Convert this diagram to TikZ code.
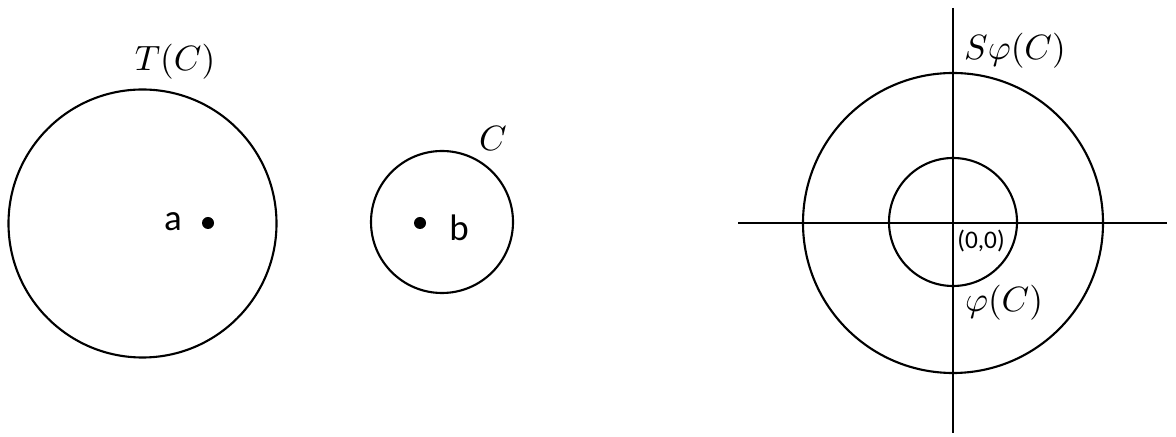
\documentclass[tikz,border=0pt]{standalone}
\usepackage{fontspec}
\newfontfamily\labfont{Carlito}
\begin{document}
\begin{tikzpicture}[x=0.01cm,y=-0.01cm,
  curve/.style={draw=black,line width=0.6pt},
  axis/.style={draw=black,line width=0.6pt},
  dotpt/.style={circle,fill=black,inner sep=0pt,minimum size=0.12cm},
  mathlab/.style={inner sep=0pt,font=\fontsize{10.2}{12}\selectfont},
  sanslab/.style={inner sep=0pt,font=\labfont\fontsize{10.5}{12}\selectfont},
  smalllab/.style={inner sep=0pt,font=\labfont\fontsize{7.2}{8}\selectfont}]
\useasboundingbox (0,0) rectangle (1176,437);
% left: T(C)
\draw[curve] (142.5,223.5) circle[radius=134];
\node[dotpt] (a) at (208,223) {};
\node[sanslab] (alab) at (173,222) {a};
\node[mathlab] (TC) at (175,62) {$T(C)$};
% middle: C
\draw[curve] (442,222) circle[radius=71];
\node[dotpt] (b) at (420,223) {};
\node[sanslab] (blab) at (459,228) {b};
\node[mathlab] (C) at (493,138) {$C$};
% right
\coordinate (xl) at (738,223);
\coordinate (xr) at (1167,223);
\coordinate (yt) at (953,8);
\coordinate (yb) at (953,433);
\draw[axis] (xl) -- (xr);
\draw[axis] (yt) -- (yb);
\draw[curve] (953,223) circle[radius=150];
\draw[curve] (953,222) circle[radius=64];
\node[mathlab] (SphiC) at (1015,51) {$S\varphi(C)$};
\node[smalllab] (orig) at (981,241) {(0,0)};
\node[mathlab] (phiC) at (1004,303) {$\varphi(C)$};
\end{tikzpicture}
\end{document}
